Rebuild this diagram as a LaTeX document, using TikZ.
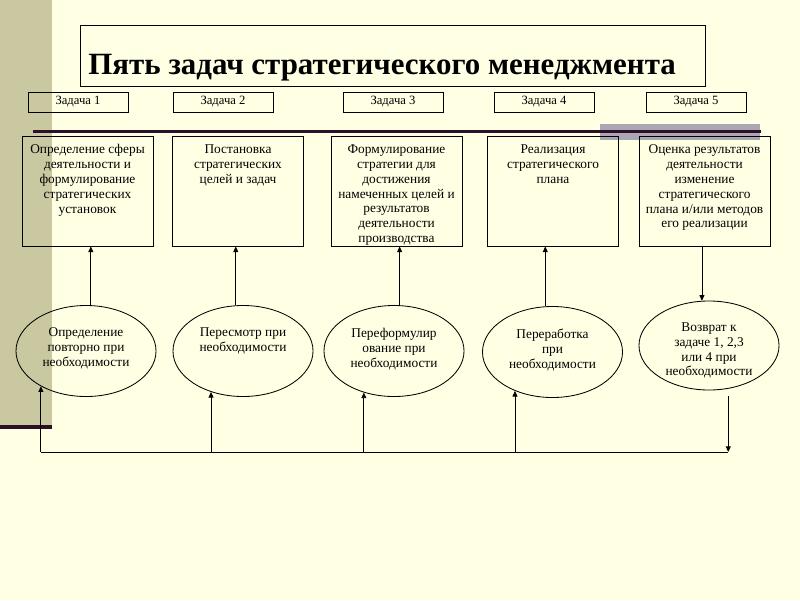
\documentclass[tikz,border=0pt]{standalone}
\usepackage{fontspec}
\setmainfont{Liberation Serif}
\usetikzlibrary{shapes.geometric}
\usetikzlibrary{arrows.meta}
\definecolor{slidebg}{RGB}{255,255,228}
\definecolor{stripcol}{RGB}{202,200,160}
\definecolor{barcol}{RGB}{45,15,40}
\definecolor{bandcol}{RGB}{170,166,178}
\newcommand{\boxtext}[1]{\parbox[c][2.6cm][t]{3.1cm}{\centering\vspace*{4pt}#1}}
\newcommand{\ovaltext}[1]{\parbox[c][1.15cm][t]{2.4cm}{\centering #1}}

\begin{document}
\begin{tikzpicture}[x=0.025cm, y=-0.025cm, line width=0.6pt,
    tasklabel/.style={shape=rectangle, draw=black, minimum width=2.5cm, minimum height=0.5cm, inner sep=0pt, font=\fontsize{9}{10}\selectfont},
    taskbox/.style={shape=rectangle, draw=black, minimum width=3.275cm, minimum height=2.75cm, inner sep=0pt, font=\fontsize{9.5}{10.6}\selectfont},
    oval/.style={shape=ellipse, draw=black, minimum width=3.5cm, minimum height=2.275cm, inner sep=0pt, font=\fontsize{9.5}{10.6}\selectfont},
    arr/.style={-{Triangle[length=4pt,width=3.5pt]}}]
        \useasboundingbox (0,0) rectangle (800,600);

        % slide background
        \fill[slidebg] (0,0) rectangle (800,600);
        \fill[stripcol] (0,0) rectangle (52,425);
        \fill[barcol] (0,425) rectangle (52,429);
        \fill[bandcol] (600,124) rectangle (760,140);
        \draw[barcol, line width=2.2pt] (33,131.5) -- (761,131.5);

        % title
        \draw (80,25) rectangle (705,86);
        \node (title) at (88,74) [anchor=base west, inner sep=0pt, font=\fontsize{22}{26}\selectfont\bfseries] {Пять задач стратегического менеджмента};

        % task labels
        \node (t1) at (78,102) [tasklabel] {Задача 1};
        \node (t2) at (223,102) [tasklabel] {Задача 2};
        \node (t3) at (393,102) [tasklabel] {Задача 3};
        \node (t4) at (544,102) [tasklabel] {Задача 4};
        \node (t5) at (696,102) [tasklabel] {Задача 5};

        % tasks
        \node (b1) at (87.5,191) [taskbox] {\boxtext{Определение сферы\\ деятельности и\\ формулирование\\ стратегических\\ установок}};
        \node (b2) at (238,191) [taskbox] {\boxtext{Постановка\\ стратегических\\ целей и задач}};
        \node (b3) at (396.5,191) [taskbox] {\boxtext{Формулирование\\ стратегии для\\ достижения\\ намеченных целей и\\ результатов\\ деятельности\\ производства}};
        \node (b4) at (553,191) [taskbox] {\boxtext{Реализация\\ стратегического\\ плана}};
        \node (b5) at (704.5,191) [taskbox] {\boxtext{Оценка результатов\\ деятельности\\ изменение\\ стратегического\\ плана и/или методов\\ его реализации}};

        % revisions
        \node (e1) at (86,351) [oval] {\ovaltext{Определение\\ повторно при\\ необходимости}};
        \node (e2) at (243,351) [oval] {\ovaltext{Пересмотр при\\ необходимости}};
        \node (e3) at (394,351) [oval] {\ovaltext{Переформулир\\ ование при\\ необходимости}};
        \node (e4) at (552.5,352) [oval] {\ovaltext{Переработка\\ при\\ необходимости}};
        \node (e5) at (709,345.5) [oval, minimum height=2.225cm] {\ovaltext{Возврат к\\ задаче 1, 2,3\\ или 4 при\\ необходимости}};

        % feedback line
        \coordinate (bl) at (41,452);
        \coordinate (br) at (728,452);

        % connections
        \draw[arr] (e1.84) -- (e1.84 |- b1.south);
        \draw[arr] (e2.99) -- (e2.99 |- b2.south);
        \draw[arr] (e3.83) -- (e3.83 |- b3.south);
        \draw[arr] (e4.99) -- (e4.99 |- b4.south);
        \draw[arr] (b5.south -| e5.99) -- (e5.99);
        \draw (bl) -- (br);
        \draw[arr] (e1.218 |- bl) -- (e1.218);
        \draw[arr] (e2.232 |- bl) -- (e2.232);
        \draw[arr] (e3.234 |- bl) -- (e3.234);
        \draw[arr] (e4.226 |- bl) -- (e4.226);
        \draw[arr, shorten <=5pt] (e5.294) -- (e5.294 |- br);
    \end{tikzpicture}
\end{document}
